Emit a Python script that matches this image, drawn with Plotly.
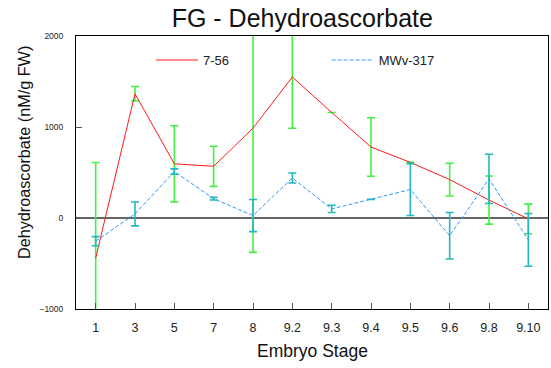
import plotly.graph_objects as go

stages = ["1", "3", "5", "7", "8", "9.2", "9.3", "9.4", "9.5", "9.6", "9.8", "9.10"]
line_756 = [-440, 1365, 595, 568, 987, 1550, 1160, 780, 611, 422, 197, -10]
err_756 = [1050, 80, 418, 220, 1365, 563, None, 322, None, 180, 264, 163]
line_mwv = [-255, 45, 510, 212, 27, 440, 100, 205, 313, -195, 430, -240]
err_mwv = [50, 131, 30, 15, 177, 55, 40, None, 285, 255, 270, 290]

FONT = "Liberation Sans, Arial, sans-serif"

fig = go.Figure()
fig.add_trace(go.Scatter(
    x=stages, y=line_756, mode="lines", name="7-56",
    line=dict(color="#ff1a1a", width=1),
    error_y=dict(type="data", array=err_756, visible=True,
                 color="#44f044", thickness=1.6, width=4),
    legend="legend",
))
fig.add_trace(go.Scatter(
    x=stages, y=line_mwv, mode="lines", name="MWv-317",
    line=dict(color="#3399ff", width=1, dash="4px,2px"),
    error_y=dict(type="data", array=err_mwv, visible=True,
                 color="#22b8c0", thickness=1.6, width=4),
    legend="legend2",
))

fig.update_layout(
    width=551, height=368,
    margin=dict(l=76, r=3, t=36, b=59, autoexpand=False),
    showlegend=True,
    paper_bgcolor="white", plot_bgcolor="white",
    font=dict(family=FONT, color="#111"),
    title=dict(text="FG - Dehydroascorbate", x=302.3 / 551, xref="container", xanchor="center",
               y=1 - 18.5 / 368, yref="container", yanchor="middle",
               font=dict(size=25, color="#111")),
    legend=dict(x=0.159, y=0.912, xanchor="left", yanchor="middle", itemwidth=42,
                bgcolor="rgba(0,0,0,0)", font=dict(size=13, color="#222")),
    legend2=dict(x=0.531, y=0.912, xanchor="left", yanchor="middle", itemwidth=42,
                 bgcolor="rgba(0,0,0,0)", font=dict(size=13, color="#222")),
    xaxis=dict(
        type="category", range=[-0.5, 11.5], automargin=False,
        showline=True, linecolor="black", linewidth=1, mirror=True,
        ticks="inside", ticklen=6, tickcolor="#555",
        showgrid=False, zeroline=False,
        tickfont=dict(size=12.5, color="#222"), ticklabelstandoff=7,
    ),
    yaxis=dict(
        range=[-1000, 2000], tickvals=[-1000, 0, 1000, 2000], automargin=False,
        showline=True, linecolor="black", linewidth=1, mirror=True,
        ticks="inside", ticklen=6, tickcolor="#555",
        showgrid=False,
        zeroline=True, zerolinecolor="#666", zerolinewidth=1.5,
        tickfont=dict(size=8.5, color="#222"), ticklabelstandoff=10,
    ),
    annotations=[
        dict(text="Embryo Stage", xref="paper", yref="paper", x=0.5, y=-0.154,
             xanchor="center", yanchor="middle", showarrow=False,
             font=dict(size=17.5, color="#111")),
        dict(text="Dehydroascorbate (nM/g FW)", xref="paper", yref="paper",
             x=-0.110, y=0.572, xanchor="center", yanchor="middle", textangle=-90,
             showarrow=False, font=dict(size=16.2, color="#111")),
    ],
)

fig.write_html("out.html", config={"displayModeBar": False},
               post_script="document.body.style.margin='0';")
